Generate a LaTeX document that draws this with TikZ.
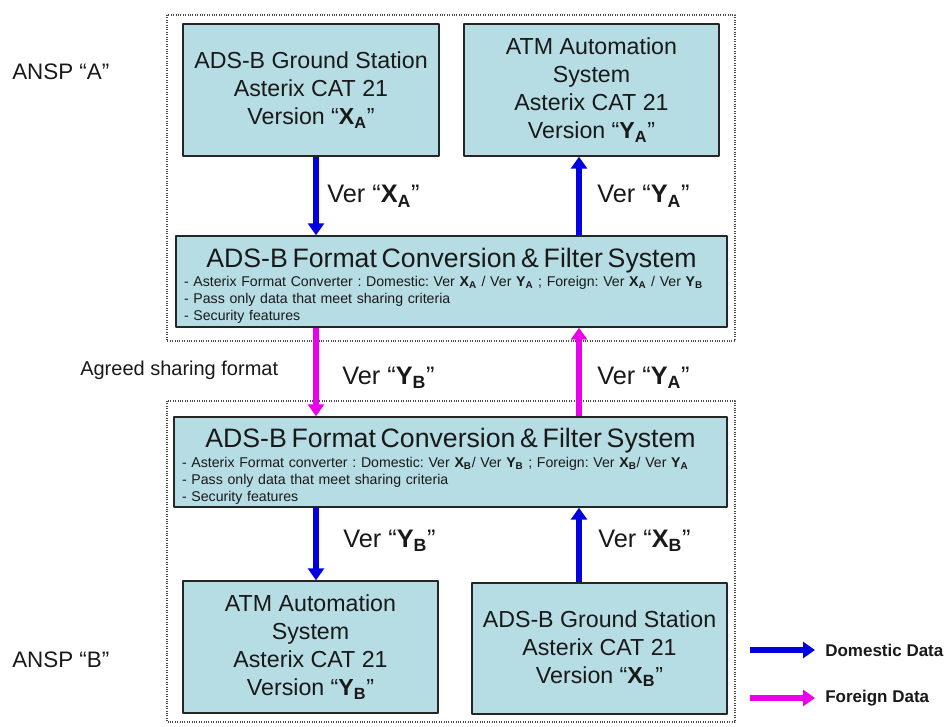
\documentclass[tikz,border=0pt]{standalone}
\usepackage{fontspec}
\setmainfont{Liberation Sans}
\usetikzlibrary{arrows.meta,calc}
\definecolor{boxfill}{RGB}{183,221,228}
\definecolor{domblue}{RGB}{0,0,225}
\definecolor{formag}{RGB}{235,0,235}
\newcommand{\vx}[2]{\textbf{#1\textsubscript{#2}}}

\begin{document}
\begin{tikzpicture}[x=0.75pt, y=-0.75pt, line join=round,
  station/.style={draw=black!85, line width=1.1pt, fill=boxfill, align=center,
    inner sep=0pt, text=black!90, font=\fontsize{17.4}{21}\selectfont},
  convbox/.style={draw=black!85, line width=1.1pt, fill=boxfill, align=left,
    inner xsep=6pt, inner ysep=0pt, text=black!90,
    font=\frenchspacing\fontsize{10.6}{12.75}\selectfont},
  domestic/.style={draw=domblue, line width=4.5pt, -{Triangle[width=12pt,length=9pt]}},
  foreign/.style={domestic, draw=formag},
  verlbl/.style={anchor=base west, inner sep=0pt, text=black!90, font=\fontsize{19}{22}\selectfont},
  sidelbl/.style={anchor=west, inner sep=0pt, text=black!90},
  legtext/.style={anchor=west, inner xsep=7.5pt, inner ysep=0pt, text=black!90,
    font=\bfseries\fontsize{12.75}{15}\selectfont},
  frame/.style={draw=black!70, densely dotted, line width=0.8pt}]
  \useasboundingbox (0,0) rectangle (949,727);

  \coordinate (colL) at (316,0);
  \coordinate (colR) at (579,0);
  \coordinate (domS) at (750,650);
  \coordinate (forS) at (750,698);

  \draw[frame] (167,15) rectangle (735,341);
  \draw[frame] (167,401) rectangle (735,722);

  \node[station, minimum width=192pt, minimum height=99pt] (gsA) at (311,90)
    {ADS-B Ground Station\\Asterix CAT 21\\Version “\vx{X}{A}”};
  \node[station, minimum width=191.25pt, minimum height=99pt] (atmA) at (591.5,90)
    {ATM Automation\\System\\Asterix CAT 21\\Version “\vx{Y}{A}”};
  \node[convbox, minimum height=68.25pt, text width=401.25pt] (convA) at (451.5,281.5)
    {\rule{0pt}{21pt}\makebox[\hsize]{\fontsize{20}{22}\selectfont ADS-B Format Conversion \& Filter System}\\[1.9pt]
     - Asterix Format Converter : Domestic: Ver \vx{X}{A} / Ver \vx{Y}{A} ; Foreign: Ver \vx{X}{A} / Ver \vx{Y}{B}\\
     - Pass only data that meet sharing criteria\\
     - Security features};
  \node[convbox, minimum height=67.5pt, text width=402.75pt] (convB) at (450.5,462)
    {\rule{0pt}{21pt}\makebox[\hsize]{\fontsize{20}{22}\selectfont ADS-B Format Conversion \& Filter System}\\[1.9pt]
     - Asterix Format converter : Domestic: Ver \vx{X}{B}/ Ver \vx{Y}{B} ; Foreign: Ver \vx{X}{B}/ Ver \vx{Y}{A}\\
     - Pass only data that meet sharing criteria\\
     - Security features};
  \node[station, minimum width=191.25pt, minimum height=99pt] (atmB) at (310.5,647)
    {ATM Automation\\System\\Asterix CAT 21\\Version “\vx{Y}{B}”};
  \node[station, minimum width=191.25pt, minimum height=98.25pt] (gsB) at (599.5,648.5)
    {ADS-B Ground Station\\Asterix CAT 21\\Version “\vx{X}{B}”};

  \draw[domestic] (gsA.south -| colL) -- (convA.north -| colL);
  \draw[domestic] (convA.north -| colR) -- (atmA.south -| colR);
  \draw[foreign] (convA.south -| colL) -- (convB.north -| colL);
  \draw[foreign] (convB.north -| colR) -- (convA.south -| colR);
  \draw[domestic] (convB.south -| colL) -- (atmB.north -| colL);
  \draw[domestic] (gsB.north -| colR) -- (convB.south -| colR);

  \node[verlbl] (verXA) at (327,203) {Ver “\vx{X}{A}”};
  \node[verlbl] (verYA) at (597,203) {Ver “\vx{Y}{A}”};
  \node[verlbl] (verYBa) at (342,384) {Ver “\vx{Y}{B}”};
  \node[verlbl] (verYAb) at (597,384) {Ver “\vx{Y}{A}”};
  \node[verlbl] (verYB) at (343,547) {Ver “\vx{Y}{B}”};
  \node[verlbl] (verXB) at (598,547) {Ver “\vx{X}{B}”};

  \node[sidelbl, font=\fontsize{16.8}{20}\selectfont] (anspA) at (12,72) {ANSP “A”};
  \node[sidelbl, font=\fontsize{16.8}{20}\selectfont] (anspB) at (12,660) {ANSP “B”};
  \node[sidelbl, font=\fontsize{15}{18}\selectfont] (agreed) at (80,370) {Agreed sharing format};

  \node[legtext] (domtxt) at (815,650) {Domestic Data};
  \node[legtext] (fortxt) at (815,698) {Foreign Data};
  \draw[domestic] (domS) -- (domtxt.west);
  \draw[foreign] (forS) -- (fortxt.west);
\end{tikzpicture}
\end{document}
